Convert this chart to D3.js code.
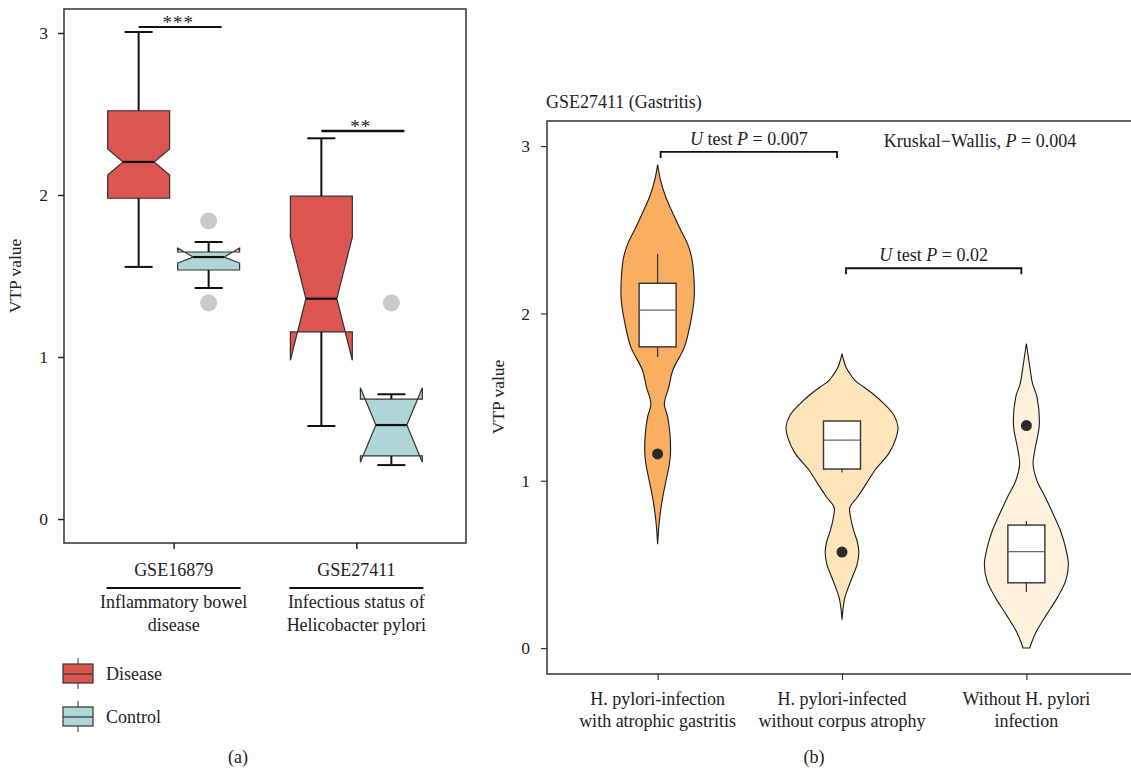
<!DOCTYPE html>
<html>
<head>
<meta charset="utf-8">
<script src="https://cdn.jsdelivr.net/npm/d3@7"></script>
<style>
  body { margin: 0; background: #fff; }
  svg text { font-family: "Liberation Serif", "DejaVu Serif", serif; fill: #222; }
</style>
</head>
<body>
<svg id="fig" width="1131" height="771"></svg>
<script>
// ---- panel (a) data ----
var datasets = ['GSE16879', 'GSE27411'];
var datasetNotes = [['Inflammatory bowel', 'disease'], ['Infectious status of', 'Helicobacter pylori']];
var groups = ['Disease', 'Control'];
var groupColors = ['#db5650', '#aed5d7'];
// [lower whisker, Q1, notch low, median, notch high, Q3, upper whisker]
var diseaseStats = [[1.556, 1.98, 2.123, 2.204, 2.284, 2.52, 3.006],
                    [0.574, 1.155, 0.98, 1.36, 1.74, 1.993, 2.35]];
var controlStats = [[1.426, 1.537, 1.58, 1.617, 1.673, 1.648, 1.71],
                    [0.333, 0.39, 0.35, 0.58, 0.81, 0.74, 0.77]];
var diseaseOutliers = [[], []];
var controlOutliers = [[1.84, 1.333], [1.333]];
var signifLabels = ['***', '**'];
var signifLevels = [3.037, 2.395];
var ticksA = [0, 1, 2, 3];

// ---- panel (b) data ----
var categories = [['H. pylori-infection', 'with atrophic gastritis'],
                  ['H. pylori-infected', 'without corpus atrophy'],
                  ['Without H. pylori', 'infection']];
var violinColors = ['#f9ae61', '#fee5b9', '#fff1db'];
// [value, relative density]
var densityAtrophic = [[0.62, 0], [0.72, 0.02], [0.80, 0.045], [0.90, 0.09], [1.00, 0.15], [1.10, 0.21],
  [1.17, 0.23], [1.28, 0.22], [1.38, 0.18], [1.46, 0.12], [1.56, 0.2], [1.66, 0.27], [1.80, 0.48],
  [1.95, 0.59], [2.08, 0.65], [2.20, 0.65], [2.33, 0.61], [2.42, 0.53], [2.50, 0.41], [2.60, 0.27],
  [2.70, 0.14], [2.80, 0.05], [2.89, 0]];
var densityInfected = [[0.17, 0], [0.24, 0.02], [0.30, 0.05], [0.36, 0.11], [0.42, 0.18], [0.50, 0.27],
  [0.575, 0.3], [0.64, 0.27], [0.70, 0.21], [0.77, 0.16], [0.84, 0.14], [0.90, 0.27], [0.98, 0.43],
  [1.064, 0.59], [1.165, 0.84], [1.25, 0.96], [1.32, 1], [1.39, 0.93], [1.46, 0.75], [1.52, 0.55],
  [1.56, 0.39], [1.60, 0.23], [1.64, 0.14], [1.68, 0.07], [1.72, 0.03], [1.76, 0]];
var densityNegative = [[0, 0.06], [0.03, 0.09], [0.10, 0.18], [0.20, 0.36], [0.30, 0.55], [0.40, 0.7],
  [0.50, 0.75], [0.60, 0.7], [0.70, 0.61], [0.80, 0.48], [0.90, 0.34], [1.00, 0.19], [1.10, 0.12],
  [1.20, 0.16], [1.33, 0.23], [1.50, 0.19], [1.58, 0.11], [1.66, 0.07], [1.74, 0.035], [1.82, 0]];
var densities = [densityAtrophic, densityInfected, densityNegative];
// [lower whisker, Q1, median, Q3, upper whisker]
var violinBoxes = [[1.74, 1.80, 2.02, 2.18, 2.355],
                   [1.05, 1.07, 1.243, 1.357, 1.36],
                   [0.335, 0.39, 0.576, 0.735, 0.76]];
var violinOutliers = [[1.16], [0.574], [1.33]];
var pairTests = [{from: 0, to: 1, level: 2.965, p: '0.007'}, {from: 1, to: 2, level: 2.27, p: '0.02'}];
var kruskalP = '0.004';
var ticksB = [0, 1, 2, 3];

var svg = d3.select('#fig');
var fs = 18;

// =============== panel (a) ===============
var xA = d3.scalePoint().domain(datasets).range([64, 466]).padding(0.6);
var xSub = d3.scaleBand().domain(groups).range([-70, 70]);
var yA = d3.scaleLinear().domain([-0.148, 3.148]).range([543, 9]);
var boxW = xSub.bandwidth() * 0.885;

var gA = svg.append('g');
gA.append('rect').attr('x', 64).attr('y', 9).attr('width', 402).attr('height', 534)
  .attr('fill', 'none').attr('stroke', '#333').attr('stroke-width', 1.5);

var axA = gA.append('g').attr('transform', 'translate(64,0)')
  .call(d3.axisLeft(yA).tickValues(ticksA).tickSize(6).tickPadding(10).tickFormat(d3.format('d')));
axA.select('.domain').remove();
axA.selectAll('line').attr('stroke', '#222').attr('stroke-width', 1.5);
axA.selectAll('text').attr('font-size', 17.5).attr('fill', '#222');

var axAx = gA.append('g').attr('transform', 'translate(0,543)')
  .call(d3.axisBottom(xA).tickSize(6).tickFormat(''));
axAx.select('.domain').remove();
axAx.selectAll('line').attr('stroke', '#222').attr('stroke-width', 1.5);

gA.append('text').attr('transform', 'translate(21,276) rotate(-90)')
  .attr('text-anchor', 'middle').attr('font-size', 17.5).text('VTP value');

function notchPath(cx, s) {
  var L = cx - boxW / 2, R = cx + boxW / 2, ins = boxW / 4;
  var pts = [[L, s[1]], [L, s[2]], [L + ins, s[3]], [L, s[4]], [L, s[5]],
             [R, s[5]], [R, s[4]], [R - ins, s[3]], [R, s[2]], [R, s[1]]];
  return 'M' + pts.map(function(p) { return p[0] + ',' + yA(p[1]); }).join('L') + 'Z';
}

function drawBox(g, cx, s, color, outliers) {
  var capW = 14;
  g.append('path').attr('d', notchPath(cx, s)).attr('fill', color)
    .attr('stroke', '#333').attr('stroke-width', 1.2).attr('stroke-linejoin', 'miter');
  [[s[5], s[6]], [s[1], s[0]]].forEach(function(w) {
    g.append('line').attr('x1', cx).attr('x2', cx).attr('y1', yA(w[0])).attr('y2', yA(w[1]))
      .attr('stroke', '#111').attr('stroke-width', 2);
    g.append('line').attr('x1', cx - capW).attr('x2', cx + capW).attr('y1', yA(w[1])).attr('y2', yA(w[1]))
      .attr('stroke', '#111').attr('stroke-width', 2);
  });
  g.append('line').attr('x1', cx - boxW / 4).attr('x2', cx + boxW / 4)
    .attr('y1', yA(s[3])).attr('y2', yA(s[3])).attr('stroke', '#111').attr('stroke-width', 2.2);
  outliers.forEach(function(o) {
    g.append('circle').attr('cx', cx).attr('cy', yA(o)).attr('r', 8.5).attr('fill', '#c9c9c9');
  });
}

datasets.forEach(function(ds, i) {
  var c = xA(ds);
  drawBox(gA, c + xSub('Disease') + xSub.bandwidth() / 2, diseaseStats[i], groupColors[0], diseaseOutliers[i]);
  drawBox(gA, c + xSub('Control') + xSub.bandwidth() / 2, controlStats[i], groupColors[1], controlOutliers[i]);

  var x1 = c + xSub('Disease') + xSub.bandwidth() / 2,
      x2 = c + xSub('Control') + xSub.bandwidth() / 2 + 13;
  gA.append('line').attr('x1', x1).attr('x2', x2)
    .attr('y1', yA(signifLevels[i])).attr('y2', yA(signifLevels[i]))
    .attr('stroke', '#111').attr('stroke-width', i === 0 ? 2 : 2.6);
  gA.append('text').attr('x', (x1 + x2) / 2 - 2).attr('y', yA(signifLevels[i]) + 2)
    .attr('text-anchor', 'middle').attr('font-size', 19).attr('letter-spacing', 1)
    .attr('fill', '#555').text(signifLabels[i]);

  gA.append('text').attr('x', c).attr('y', 576).attr('text-anchor', 'middle')
    .attr('font-size', fs).text(ds);
  gA.append('line').attr('x1', c - 67).attr('x2', c + 67).attr('y1', 588).attr('y2', 588)
    .attr('stroke', '#111').attr('stroke-width', 2);
  datasetNotes[i].forEach(function(t, k) {
    gA.append('text').attr('x', c).attr('y', 608 + k * 23).attr('text-anchor', 'middle')
      .attr('font-size', fs).text(t);
  });
});

// legend
groups.forEach(function(gname, i) {
  var cy = 674 + i * 43;
  var lg = gA.append('g');
  lg.append('line').attr('x1', 78).attr('x2', 78).attr('y1', cy - 16).attr('y2', cy + 15)
    .attr('stroke', '#333').attr('stroke-width', 1);
  lg.append('rect').attr('x', 63).attr('y', cy - 10).attr('width', 30).attr('height', 19)
    .attr('fill', groupColors[i]).attr('stroke', '#333').attr('stroke-width', 1.2);
  lg.append('line').attr('x1', 63).attr('x2', 93).attr('y1', cy).attr('y2', cy)
    .attr('stroke', '#333').attr('stroke-width', 1.2);
  lg.append('text').attr('x', 106).attr('y', cy + 6).attr('font-size', fs).text(gname);
});

gA.append('text').attr('x', 238).attr('y', 763).attr('text-anchor', 'middle')
  .attr('font-size', fs).text('(a)');

// =============== panel (b) ===============
var xB = d3.scalePoint().domain(d3.range(categories.length)).range([547, 1137]).padding(0.6);
var yB = d3.scaleLinear().domain([-0.155, 3.15]).range([674, 121]);
var wB = d3.scaleLinear().domain([0, 1]).range([0, 56]);
var boxWB = 37;

var gB = svg.append('g');
gB.append('text').attr('x', 546).attr('y', 108).attr('font-size', fs).text('GSE27411 (Gastritis)');
gB.append('rect').attr('x', 547).attr('y', 121).attr('width', 600).attr('height', 553)
  .attr('fill', 'none').attr('stroke', '#333').attr('stroke-width', 1.5);

var axB = gB.append('g').attr('transform', 'translate(547,0)')
  .call(d3.axisLeft(yB).tickValues(ticksB).tickSize(6).tickPadding(11).tickFormat(d3.format('d')));
axB.select('.domain').remove();
axB.selectAll('line').attr('stroke', '#333').attr('stroke-width', 1.2);
axB.selectAll('text').attr('font-size', 17.5).attr('fill', '#222');

var axBx = gB.append('g').attr('transform', 'translate(0,674)')
  .call(d3.axisBottom(xB).tickSize(6).tickFormat(''));
axBx.select('.domain').remove();
axBx.selectAll('line').attr('stroke', '#333').attr('stroke-width', 1.2);

gB.append('text').attr('transform', 'translate(504,397) rotate(-90)')
  .attr('text-anchor', 'middle').attr('font-size', 17.5).text('VTP value');

categories.forEach(function(lines, i) {
  var cx = xB(i);
  var area = d3.area()
    .y(function(d) { return yB(d[0]); })
    .x0(function(d) { return cx - wB(d[1]); })
    .x1(function(d) { return cx + wB(d[1]); })
    .curve(d3.curveCatmullRom.alpha(0.5));
  gB.append('path').datum(densities[i]).attr('d', area)
    .attr('fill', violinColors[i]).attr('stroke', '#1a1a1a').attr('stroke-width', 1.1);

  var b = violinBoxes[i];
  gB.append('line').attr('x1', cx).attr('x2', cx).attr('y1', yB(b[0])).attr('y2', yB(b[4]))
    .attr('stroke', '#333').attr('stroke-width', 1.2);
  gB.append('rect').attr('x', cx - boxWB / 2).attr('y', yB(b[3])).attr('width', boxWB)
    .attr('height', yB(b[1]) - yB(b[3])).attr('fill', '#fff').attr('stroke', '#333').attr('stroke-width', 1.4);
  gB.append('line').attr('x1', cx - boxWB / 2).attr('x2', cx + boxWB / 2)
    .attr('y1', yB(b[2])).attr('y2', yB(b[2])).attr('stroke', '#666').attr('stroke-width', 1.2);
  violinOutliers[i].forEach(function(o) {
    gB.append('circle').attr('cx', cx).attr('cy', yB(o)).attr('r', 5.5).attr('fill', '#2b2b2b');
  });

  lines.forEach(function(t, k) {
    gB.append('text').attr('x', cx).attr('y', 705 + k * 22).attr('text-anchor', 'middle')
      .attr('font-size', fs).text(t);
  });
});

pairTests.forEach(function(t, i) {
  var x1 = xB(t.from) + (i === 0 ? 3 : 4), x2 = xB(t.to) - 5, y = yB(t.level);
  gB.append('path').attr('d', 'M' + x1 + ',' + (y + 6) + 'V' + y + 'H' + x2 + 'V' + (y + 6))
    .attr('fill', 'none').attr('stroke', '#111').attr('stroke-width', 1.8);
  var tx = gB.append('text').attr('x', (x1 + x2) / 2).attr('y', y - 7)
    .attr('text-anchor', 'middle').attr('font-size', fs);
  tx.append('tspan').attr('font-style', 'italic').text('U');
  tx.append('tspan').text(' test ');
  tx.append('tspan').attr('font-style', 'italic').text('P');
  tx.append('tspan').text(' = ' + t.p);
});

var kw = gB.append('text').attr('x', 980).attr('y', 147).attr('text-anchor', 'middle').attr('font-size', fs);
kw.append('tspan').text('Kruskal\u2212Wallis, ');
kw.append('tspan').attr('font-style', 'italic').text('P');
kw.append('tspan').text(' = ' + kruskalP);

gB.append('text').attr('x', 814).attr('y', 763).attr('text-anchor', 'middle')
  .attr('font-size', fs).text('(b)');
</script>
</body>
</html>
